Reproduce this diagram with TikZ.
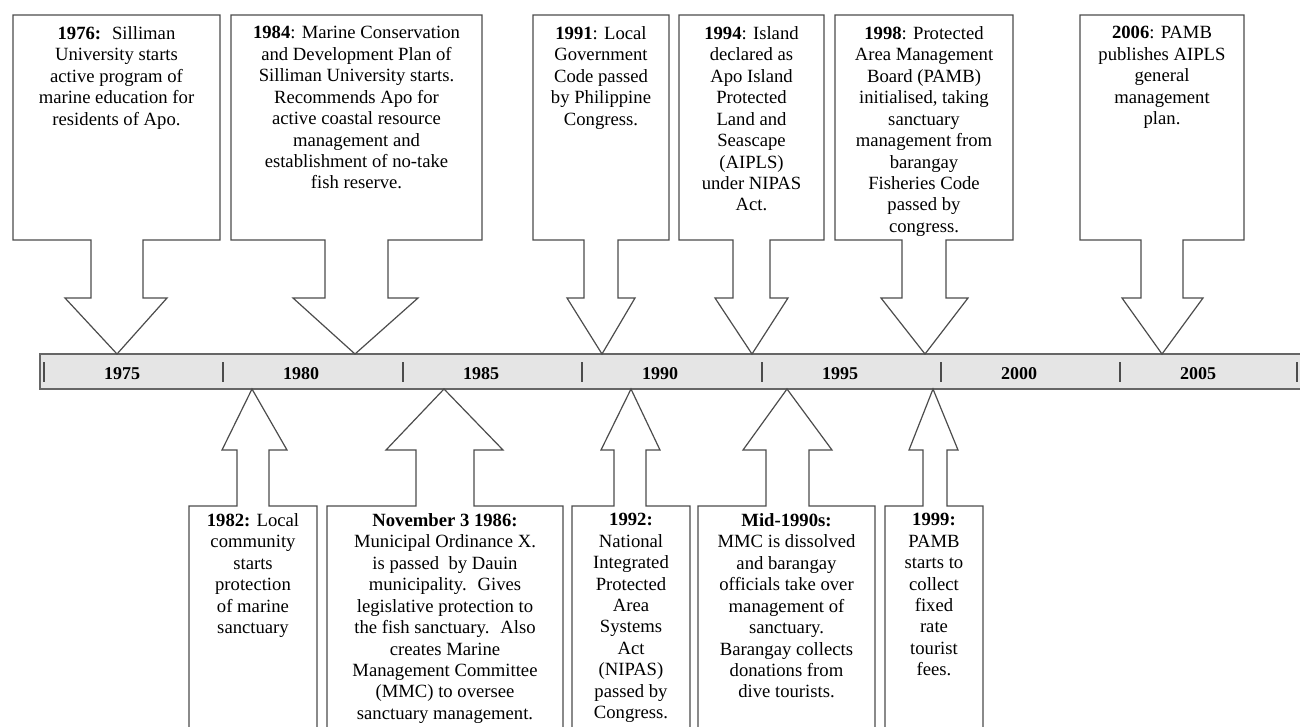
\documentclass[tikz,border=0pt]{standalone}
\usepackage{fontspec}
\setmainfont{Liberation Serif}
\usetikzlibrary{calc, positioning}

\begin{document}
\begin{tikzpicture}[x=0.75pt, y=-0.75pt,
        callout/.style={draw=black!70, line width=0.9pt, line join=miter, fill=white},
        txt/.style={align=center, anchor=north, inner sep=0pt, font=\fontsize{14}{16.1}\selectfont},
        timebar/.style={draw=black!60, line width=1.2pt, fill=gray!20, inner sep=0pt, outer sep=0pt},
        yearlbl/.style={font=\fontsize{13.5}{15}\selectfont\bfseries, inner sep=0pt}]
        \useasboundingbox (0,0) rectangle (1300,726);
        \clip (0,0) rectangle (1300,726);

        % Timeline bar
        \node[timebar, minimum width=946.5pt, minimum height=26.25pt] (bar) at (671,371.5) {};
        \foreach \x in {44,223,403,582,762,941,1120,1297}
            \draw[black!70, line width=0.8pt] (\x,362) -- (\x,382);
        \foreach \x/\yr in {122/1975,301/1980,481/1985,660/1990,840/1995,1019/2000,1198/2005}
            \node[yearlbl] (y\yr) at (\x,374) {\yr};

        % Callouts above the bar (box + arrow down)
        \foreach \l/\r/\sl/\sr/\wl/\wr/\tx in {13/220/91/143/65/167/117,
                231/482/325/388/293/418/355, 533/669/584/618/567/635/602,
                679/824/733/770/715/788/752, 835/1013/902/946/881/968/925,
                1080/1244/1141/1183/1122/1203/1162}
            \draw[callout] (\l,15) -- (\r,15) -- (\r,240) -- (\sr,240) -- (\sr,298)
                -- (\wr,298) -- (\tx,0 |- bar.north) -- (\wl,298) -- (\sl,298)
                -- (\sl,240) -- (\l,240) -- cycle;

        % Callouts below the bar (arrow up + box)
        \foreach \l/\r/\sl/\sr/\wl/\wr/\tx in {189/317/237/269/222/287/252,
                327/563/416/474/386/503/444, 572/690/614/646/601/660/631,
                698/875/766/809/743/832/787, 885/983/923/947/909/958/933}
            \draw[callout] (\l,760) -- (\l,506) -- (\sl,506) -- (\sl,450) -- (\wl,450)
                -- (\tx,0 |- bar.south) -- (\wr,450) -- (\sr,450) -- (\sr,506)
                -- (\r,506) -- (\r,760) -- cycle;

        % Texts above
        \node[txt] (e1976) at (116.5,26) {\textbf{1976:} \ Silliman\\University starts\\active program of\\marine education for\\residents of Apo.};
        \node[txt] (e1984) at (356.5,26) {\textbf{1984}: Marine Conservation\\and Development Plan of\\Silliman University starts.\\Recommends Apo for\\active coastal resource\\management and\\establishment of no-take\\fish reserve.};
        \node[txt] (e1991) at (601,26) {\textbf{1991}: Local\\Government\\Code passed\\by Philippine\\Congress.};
        \node[txt] (e1994) at (751.5,26) {\textbf{1994}: Island\\declared as\\Apo Island\\Protected\\Land and\\Seascape\\(AIPLS)\\under NIPAS\\Act.};
        \node[txt] (e1998) at (924,26) {\textbf{1998}: Protected\\Area Management\\Board (PAMB)\\initialised, taking\\sanctuary\\management from\\barangay\\Fisheries Code\\passed by\\congress.};
        \node[txt] (e2006) at (1162,26) {\textbf{2006}: PAMB\\publishes AIPLS\\general\\management\\plan.};

        % Texts below
        \node[txt] (e1982) at (253,513) {\textbf{1982:} Local\\community\\starts\\protection\\of marine\\sanctuary};
        \node[txt] (e1986) at (445,513) {\textbf{November 3 1986:}\\Municipal Ordinance X.\\is passed \ by Dauin\\municipality. \ Gives\\legislative protection to\\the fish sanctuary. \ Also\\creates Marine\\Management Committee\\(MMC) to oversee\\sanctuary management.};
        \node[txt] (e1992) at (631,513) {\textbf{1992:}\\National\\Integrated\\Protected\\Area\\Systems\\Act\\(NIPAS)\\passed by\\Congress.};
        \node[txt] (emid) at (786.5,513) {\textbf{Mid-1990s:}\\MMC is dissolved\\and barangay\\officials take over\\management of\\sanctuary.\\Barangay collects\\donations from\\dive tourists.};
        \node[txt] (e1999) at (934,513) {\textbf{1999:}\\PAMB\\starts to\\collect\\fixed\\rate\\tourist\\fees.};
\end{tikzpicture}
\end{document}
